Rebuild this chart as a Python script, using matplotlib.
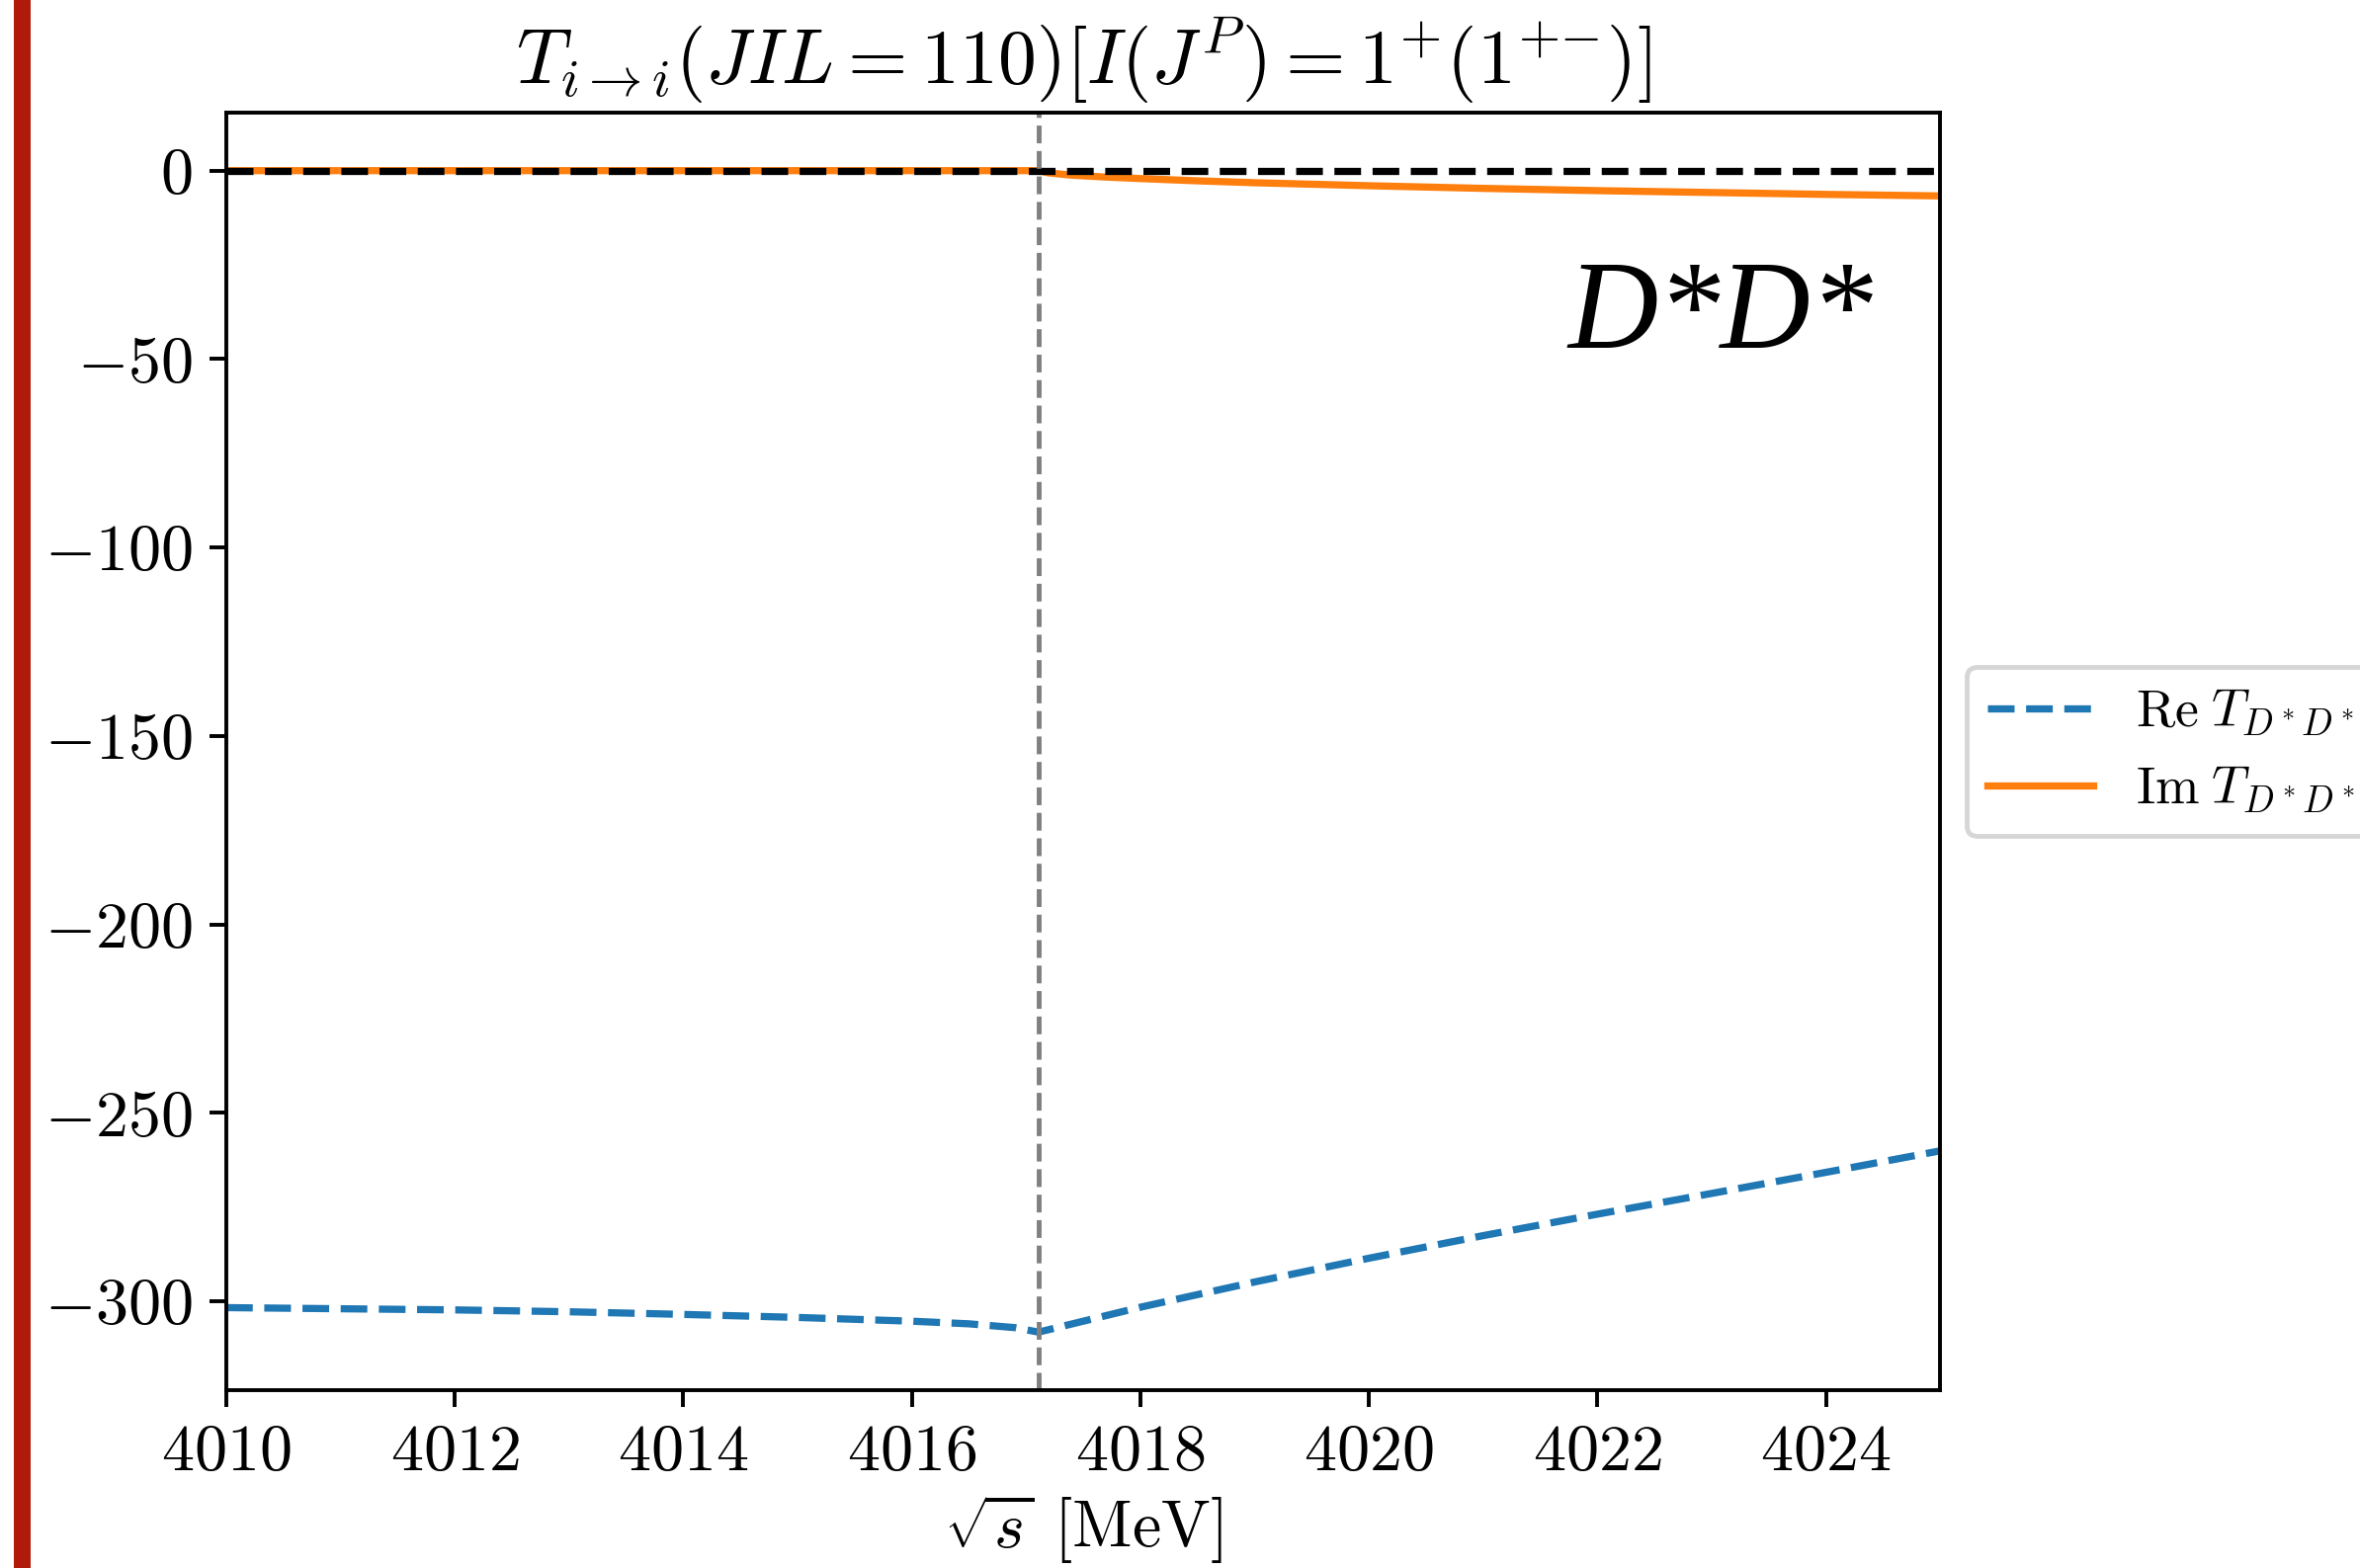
import matplotlib
matplotlib.use("Agg")
import matplotlib.pyplot as plt
from matplotlib.lines import Line2D
import numpy as np

plt.rcParams['font.family'] = 'serif'
plt.rcParams['font.serif'] = ['cmr10']
plt.rcParams['mathtext.fontset'] = 'cm'
plt.rcParams['axes.formatter.use_mathtext'] = True
plt.rcParams['font.size'] = 13.6

# threshold of D*D* [MeV]
threshold = 4017.11

# Re T
re_s = [4010, 4011, 4012, 4013, 4014, 4015, 4016, 4016.5, 4016.9, threshold,
        4018, 4019, 4020, 4021, 4022, 4023, 4024, 4025]
re_T = [-301.7, -302.0, -302.3, -302.8, -303.5, -304.3, -305.3, -306.0, -307.0, -308.2,
        -301.6, -294.9, -288.6, -282.6, -276.9, -271.4, -265.8, -260.1]

# Im T, zero below threshold
im_s = [4010, threshold, 4017.2, 4017.4, 4017.7, 4018, 4018.5, 4019, 4020, 4021, 4022, 4023, 4024, 4025]
im_T = [0.0, 0.0, -0.6, -1.2, -1.7, -2.1, -2.7, -3.2, -4.0, -4.7, -5.3, -5.8, -6.3, -6.7]

fig = plt.figure(figsize=(2388 / 350, 1587 / 350), dpi=350)
ax = fig.add_axes([0.0958, 0.1134, 0.7263, 0.8148])

ax.plot(re_s, re_T, '--', color='C0', lw=1.5, label=r'$\mathrm{Re}\;T_{D^*D^*}$')
ax.plot(im_s, im_T, '-', color='C1', lw=1.5, label=r'$\mathrm{Im}\;T_{D^*D^*}$')
ax.axhline(0, color='k', ls='--', lw=1.5)
ax.axvline(threshold, color='gray', ls='--', lw=1)

ax.set_xlim(4010, 4025)
ax.set_xticks(np.arange(4010, 4025, 2))
ax.set_yticks(np.arange(-300, 1, 50))
ax.set_xlabel(r'$\sqrt{s}$ [MeV]', labelpad=2)
ax.set_title(r'$T_{i\to i}(JIL=110)[I(J^P)=1^{{+}}(1^{{+}{-}})]$', fontsize=16, pad=6)

ax.text(0.783, 0.816, 'D*D*', transform=ax.transAxes, fontsize=26,
        family='Liberation Serif', style='italic', ha='left', va='baseline')

ax.legend(loc='center left', bbox_to_anchor=(1, 0.5), fontsize=11)

# torn red edge on the left of the crop
fig.add_artist(Line2D([22 / 2388, 22 / 2388], [0, 1], transform=fig.transFigure,
                      color='#b01a0a', lw=3.5))

fig.savefig('out.png', dpi=350)
